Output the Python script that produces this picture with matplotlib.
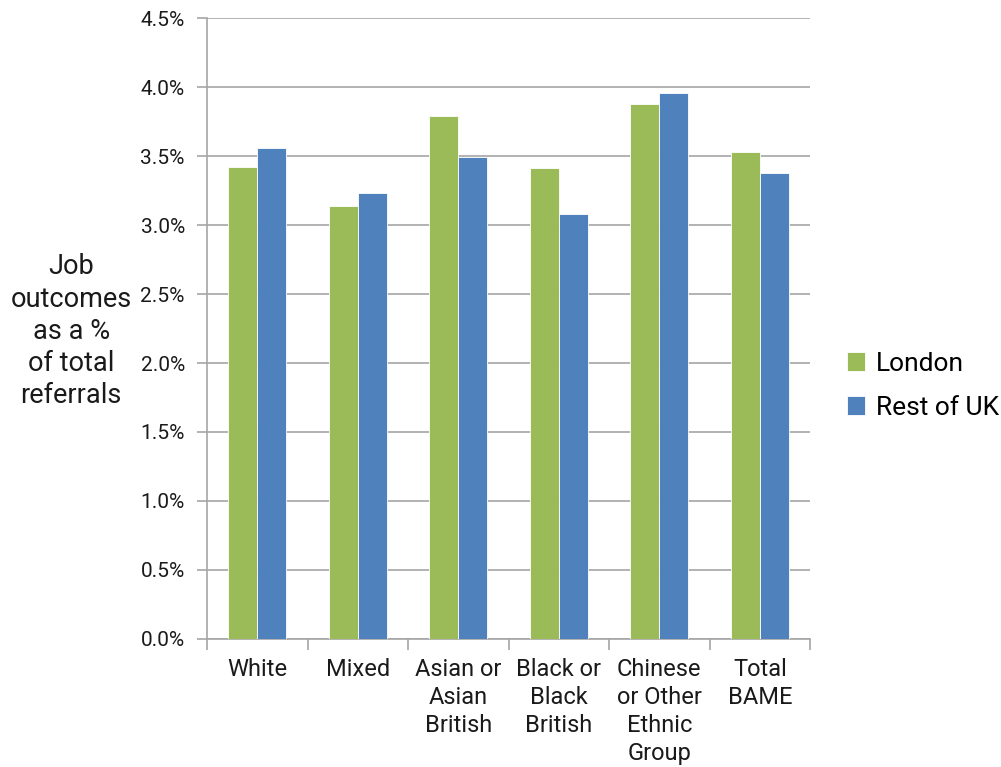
import matplotlib.pyplot as plt
import numpy as np
from matplotlib.ticker import PercentFormatter

plt.rcParams['font.family'] = ['Roboto', 'DejaVu Sans']

categories = ['White', 'Mixed', 'Asian or\nAsian\nBritish', 'Black or\nBlack\nBritish',
              'Chinese\nor Other\nEthnic\nGroup', 'Total\nBAME']
london = [3.42, 3.14, 3.79, 3.41, 3.88, 3.53]
rest_uk = [3.56, 3.23, 3.49, 3.08, 3.96, 3.38]

green = '#9bbb59'
blue = '#4f81bd'
grid_c = '#a6a6a6'

fig = plt.figure(figsize=(10.01, 7.67), dpi=100)
ax = fig.add_axes([0.2068, 0.1669, 0.8092 - 0.2068, 0.9765 - 0.1669])

x = np.arange(len(categories))
w = 0.29
ax.bar(x - w/2, london, w, color=green, edgecolor='white', linewidth=0.6, label='London', zorder=3)
ax.bar(x + w/2, rest_uk, w, color=blue, edgecolor='white', linewidth=0.6, label='Rest of UK', zorder=3)

ax.set_xlim(-0.5, len(categories) - 0.5)
ax.set_ylim(0, 4.5)
ax.set_yticks(np.arange(0, 4.51, 0.5))
ax.yaxis.set_major_formatter(PercentFormatter(decimals=1))
ax.grid(axis='y', color=grid_c, linewidth=1.2, zorder=0)

ax.set_xticks(x)
ax.set_xticklabels(categories, fontsize=17, color='#1a1a1a', linespacing=1.27, va='top')
ax.set_xticks(np.arange(-0.5, len(categories), 1), minor=True)
ax.tick_params(axis='x', which='major', length=0, pad=14)
ax.tick_params(axis='x', which='minor', length=8, color=grid_c, width=1.2)
ax.tick_params(axis='y', length=7, color=grid_c, width=1.2, labelsize=15, colors='#1a1a1a', pad=9)
ax.tick_params(axis='y', color=grid_c)

for s in ['top', 'right']:
    ax.spines[s].set_visible(False)
for s in ['left', 'bottom']:
    ax.spines[s].set_color(grid_c)
    ax.spines[s].set_linewidth(1.2)

fig.text(0.071, 0.568, 'Job\noutcomes\nas a %\nof total\nreferrals', ha='center', va='center',
         fontsize=19.5, linespacing=1.25, color='#1a1a1a')

leg = fig.legend(loc='center left', bbox_to_anchor=(0.846, 0.497), frameon=False,
                 fontsize=19, handlelength=0.7, handleheight=0.7, handletextpad=0.4,
                 labelspacing=0.75, borderaxespad=0, borderpad=0)

fig.savefig('out.png', dpi=100)
